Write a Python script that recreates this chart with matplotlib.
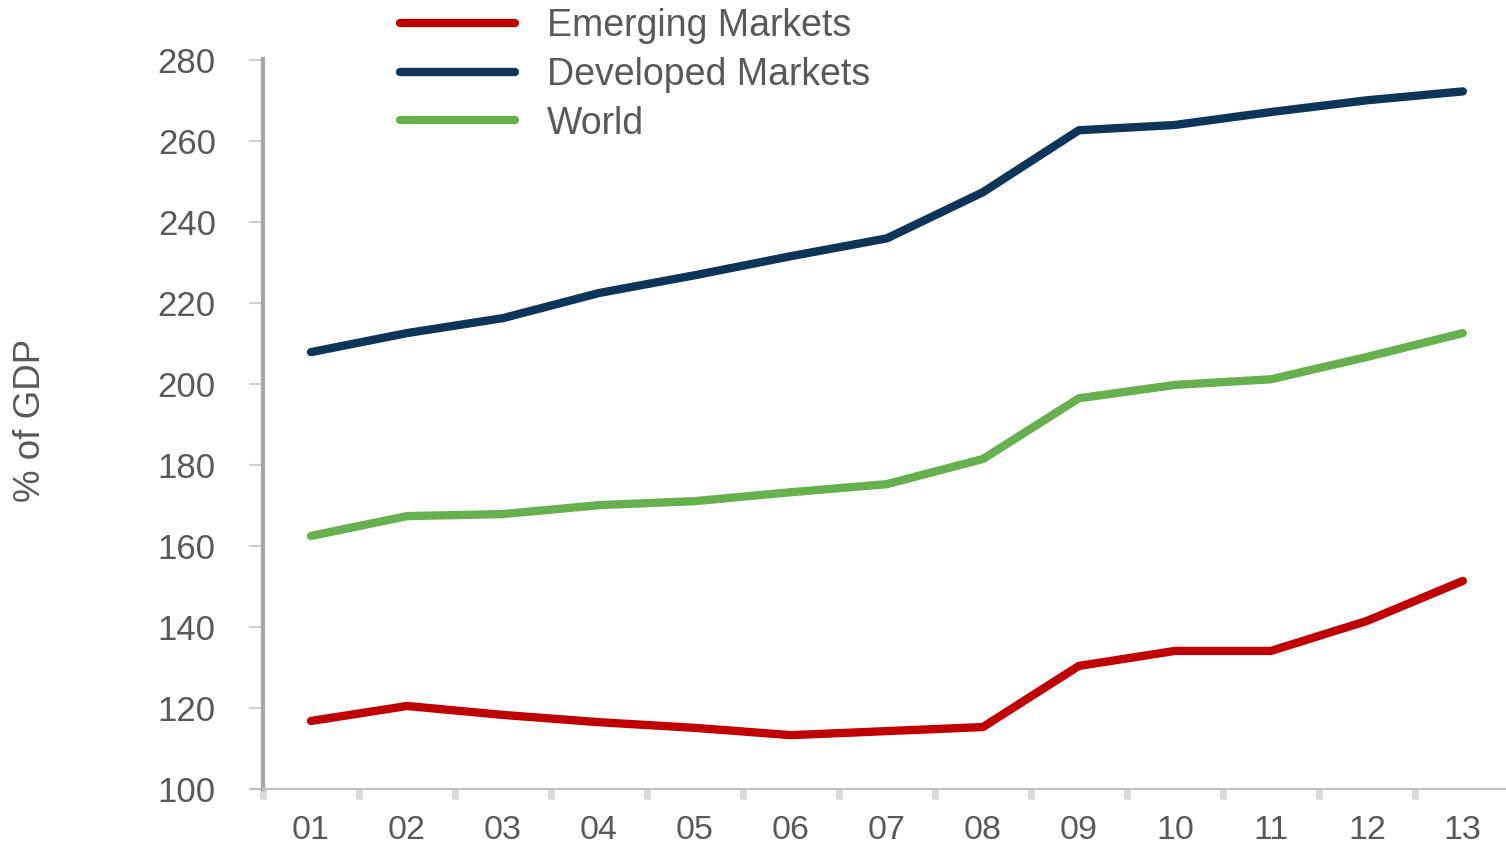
import numpy as np
import matplotlib
matplotlib.use('Agg')
import matplotlib.pyplot as plt

plt.rcParams['font.family'] = ['Liberation Sans', 'DejaVu Sans']

years = ['01', '02', '03', '04', '05', '06', '07', '08', '09', '10', '11', '12', '13']
emerging = [116.8, 120.5, 118.3, 116.5, 115.1, 113.3, 114.3, 115.3, 130.4, 134.1, 134.1, 141.5, 151.4]
developed = [207.9, 212.6, 216.3, 222.5, 226.9, 231.6, 236.0, 247.4, 262.7, 264.0, 267.2, 270.1, 272.3]
world = [162.5, 167.4, 167.9, 170.1, 171.1, 173.3, 175.3, 181.5, 196.5, 199.8, 201.2, 206.7, 212.6]
yticks = [100, 120, 140, 160, 180, 200, 220, 240, 260, 280]

grey = '#595959'
fig = plt.figure(figsize=(15.06, 8.44), dpi=100)
ax = fig.add_axes([263 / 1506, 1 - 789 / 844, 1 - 263 / 1506, (789 - 59) / 844])

x = np.arange(len(years))
ax.plot(x, emerging, color='#C00000', lw=6, solid_capstyle='round', label='Emerging Markets')
ax.plot(x, developed, color='#0E3458', lw=6, solid_capstyle='round', label='Developed Markets')
ax.plot(x, world, color='#66B04F', lw=6, solid_capstyle='round', label='World')

ax.set_xlim(-0.5, 12.45)
ax.set_ylim(100, 280.3)

ax.set_xticks(x)
ax.set_xticklabels(years)
ax.set_xticks(np.arange(-0.5, 12.5, 1.0), minor=True)
ax.tick_params(axis='x', which='major', length=0, pad=19, labelsize=24.5, labelcolor=grey)
ax.tick_params(axis='x', which='minor', length=7, width=5, color='#d9d9d9', direction='out')

ax.set_yticks(yticks)
ax.tick_params(axis='y', length=10, width=1.5, color='#d0d0d0', pad=24, labelsize=25, labelcolor=grey)

for s in ['top', 'right']:
    ax.spines[s].set_visible(False)
ax.spines['left'].set_color('#a6a6a6')
ax.spines['left'].set_linewidth(3)
ax.spines['bottom'].set_color('#c0c0c0')
ax.spines['bottom'].set_linewidth(1.5)
ax.plot([-0.62, -0.5], [100, 100], color='#c0c0c0', lw=1.5, clip_on=False)

fig.text(30 / 1506, 1 - 420 / 844, '% of GDP', rotation=90, fontsize=26.5, color=grey,
         ha='center', va='center')

ax.legend(loc='upper left', bbox_to_anchor=(400 / 1506, 1 - 8 / 844), bbox_transform=fig.transFigure,
          frameon=False, fontsize=27, labelcolor=grey, handlelength=3.07, handletextpad=0.85,
          labelspacing=0.34, borderaxespad=0.0, borderpad=0.0)

fig.savefig('out.png', dpi=100)
